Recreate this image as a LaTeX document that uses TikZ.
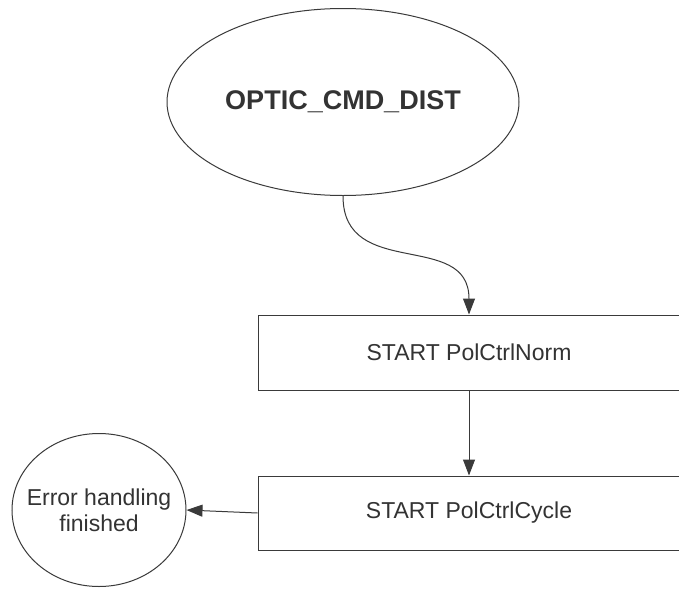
\documentclass[tikz,border=0pt]{standalone}
\usepackage{fontspec}
\setmainfont{Liberation Sans}
\usetikzlibrary{shapes.geometric,arrows.meta}
\definecolor{txt}{HTML}{333333}
\definecolor{ln}{HTML}{3A3A3A}
\begin{document}
\begin{tikzpicture}[x=1pt,y=-1pt,
  shapeline/.style={draw=ln,line width=1pt},
  ovalnode/.style={shapeline,ellipse,inner xsep=-20pt,inner ysep=0pt,text=txt,align=center},
  boxnode/.style={shapeline,rectangle,inner sep=0pt,text=txt,font=\fontsize{23}{26}\selectfont,minimum width=422pt},
  conn/.style={draw=ln,line width=1pt,-{Triangle[length=16pt,width=12pt]}}]
\useasboundingbox (0,0) rectangle (679,589);
\fill[white] (0,0) rectangle (679,589);
\node[ovalnode,minimum width=352pt,minimum height=187pt,font=\bfseries\fontsize{27}{30}\selectfont] (top) at (343,102) {OPTIC\_CMD\_DIST};
\node[boxnode,minimum height=75pt] (norm) at (469,352.5) {START PolCtrlNorm};
\node[boxnode,minimum height=74pt] (cycle) at (469,513) {START PolCtrlCycle};
\node[ovalnode,minimum width=174pt,minimum height=153pt,font=\fontsize{23}{26}\selectfont] (err) at (99,510) {Error handling\\finished};
\draw[conn] (top.south) .. controls +(0,85) and +(0,-85) .. (norm.north);
\draw[conn] (norm.south) -- (cycle.north);
\draw[conn] (cycle.west) -- (err.east);
\end{tikzpicture}
\end{document}
